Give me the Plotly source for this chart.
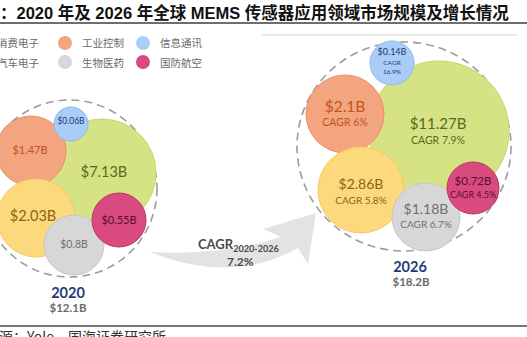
import plotly.graph_objects as go

# ---- data -------------------------------------------------------------
categories = ["消费电子", "汽车电子", "工业控制", "信息通讯", "生物医药", "国防航空"]
market_2020 = [7.13, 2.03, 1.47, 0.06, 0.80, 0.55]    # $B
market_2026 = [11.27, 2.86, 2.10, 0.14, 1.18, 0.72]   # $B
cagr_by_sector = [7.9, 5.8, 6.0, 16.9, 6.7, 4.5]      # %, 2020-2026
years = ["2020", "2026"]
totals = [12.1, 18.2]                                  # $B
cagr_total = 7.2                                       # %

# ---- styles -----------------------------------------------------------
fill_colors = ["#d6e385", "#fdd97e", "#f2a57f", "#a9cdf8", "#d7d7d7", "#d94b7f"]
edge_colors = ["#c6d66c", "#f4ca60", "#ea8e62", "#8db8ee", "#c6c6c6", "#bb3466"]
label_colors = ["#5a6a1c", "#8a6512", "#c4531e", "#1f3a68", "#707070", "#5a0f2d"]
LATIN = "Lato, 'Noto Sans', sans-serif"
CJK = "'Noto Sans CJK SC', sans-serif"
W, H = 527, 337

# ---- bubble layout (pixel space: x right, y down) ---------------------
centres_2020 = [(102, 173), (36, 218), (31, 151), (71, 124), (74, 245), (119, 220)]
radii_2020 = [54, 39, 35, 17, 30, 27]
labels_2020 = [(104, 173), (33, 217), (30, 151), (71, 122), (74, 245), (119, 221)]
sizes_2020 = [14.5, 14.5, 11, 8.5, 10.5, 11]

centres_2026 = [(439, 131), (361, 190), (345, 114), (392, 63), (426, 217), (473, 188)]
radii_2026 = [70, 43, 39, 22, 34, 26]
value_pos_2026 = [(438, 125), (361, 185), (345, 108), (392, 53), (426, 210), (473, 182)]
cagr_pos_2026 = [(438, 141), (361, 201), (345, 123), (392, 68), (426, 225), (473, 196)]
value_sizes_2026 = [15, 14, 15.5, 9, 14, 11.5]
cagr_sizes_2026 = [10.5, 10, 10.5, 6.5, 10, 9]

draw_order = [0, 2, 1, 3, 4, 5]
group_rings = [(-18, 100, 157, 277), (297, 42, 511, 251)]
year_pos = [(68, 294), (410, 268)]
total_pos = [(68, 309), (411, 283)]

# legend grid: (marker x, text x, y)
legend_slots = [(-12, -5, 43), (-12, -5, 62), (65, 80, 43),
                (143, 158, 43), (65, 80, 62), (143, 158, 62)]


def px(x):
    return x / W


def py(y):
    return 1 - y / H


fig = go.Figure()
shapes = []

# rules
shapes.append(dict(type="line", x0=0, x1=527, y0=23, y1=23,
                   line=dict(color="#6e6e6e", width=2)))
shapes.append(dict(type="line", x0=262, x1=517, y0=35, y1=35,
                   line=dict(color="#d4d4d4", width=1)))
shapes.append(dict(type="line", x0=0, x1=527, y0=326, y1=326,
                   line=dict(color="#777777", width=2)))

# growth arrow between the two groups
shapes.append(dict(
    type="path",
    path="M 150,252 Q 232,285 298,248 L 308,264 L 316,213 L 263,229 "
         "L 281,237 Q 225,256 150,252 Z",
    fillcolor="#e3e3e3", line=dict(width=0)))

# dashed rings around each year's group
for (x0, y0, x1, y1) in group_rings:
    shapes.append(dict(type="circle", x0=x0, y0=y0, x1=x1, y1=y1,
                       line=dict(color="#9c9c9c", width=1.6, dash="8px,5px"),
                       fillcolor="rgba(0,0,0,0)"))

# sector bubbles
for centres, radii in ((centres_2020, radii_2020), (centres_2026, radii_2026)):
    for i in draw_order:
        cx, cy = centres[i]
        r = radii[i]
        shapes.append(dict(type="circle", x0=cx - r, x1=cx + r, y0=cy - r, y1=cy + r,
                           fillcolor=fill_colors[i],
                           line=dict(color=edge_colors[i], width=1)))

for s in shapes:
    s["layer"] = "below"

# legend dots
fig.add_trace(go.Scatter(
    x=[legend_slots[i][0] for i in range(len(categories))],
    y=[legend_slots[i][2] for i in range(len(categories))],
    mode="markers",
    marker=dict(size=14, color=fill_colors, line=dict(width=0)),
    hoverinfo="skip", showlegend=False, cliponaxis=False))

# 2020 value labels
fig.add_trace(go.Scatter(
    x=[p[0] for p in labels_2020], y=[p[1] for p in labels_2020],
    mode="text", text=[f"${v:g}B" for v in market_2020],
    textfont=dict(family=LATIN, size=sizes_2020, color=label_colors),
    hoverinfo="skip", showlegend=False, cliponaxis=False))

# 2026 value labels and sector CAGR
fig.add_trace(go.Scatter(
    x=[p[0] for p in value_pos_2026], y=[p[1] for p in value_pos_2026],
    mode="text", text=[f"${v:g}B" for v in market_2026],
    textfont=dict(family=LATIN, size=value_sizes_2026, color=label_colors),
    hoverinfo="skip", showlegend=False, cliponaxis=False))
cagr_text = [f"CAGR {c:g}%" for c in cagr_by_sector]
cagr_text[3] = f"CAGR<br>{cagr_by_sector[3]:g}%"
fig.add_trace(go.Scatter(
    x=[p[0] for p in cagr_pos_2026], y=[p[1] for p in cagr_pos_2026],
    mode="text", text=cagr_text,
    textfont=dict(family=LATIN, size=cagr_sizes_2026, color=label_colors),
    hoverinfo="skip", showlegend=False, cliponaxis=False))

# year and total labels
fig.add_trace(go.Scatter(
    x=[p[0] for p in year_pos], y=[p[1] for p in year_pos],
    mode="text", text=[f"<b>{y}</b>" for y in years],
    textfont=dict(family=LATIN, size=14.5, color="#1f3c74"),
    hoverinfo="skip", showlegend=False, cliponaxis=False))
fig.add_trace(go.Scatter(
    x=[p[0] for p in total_pos], y=[p[1] for p in total_pos],
    mode="text", text=[f"<b>${t:g}B</b>" for t in totals],
    textfont=dict(family=LATIN, size=11.5, color="#6b6b6b"),
    hoverinfo="skip", showlegend=False, cliponaxis=False))

annotations = [
    dict(x=px(-2), y=py(12), xref="paper", yref="paper",
         xanchor="left", yanchor="middle",
         text="<b>：2020 年及 2026 年全球 MEMS 传感器应用领域市场规模及增长情况</b>",
         showarrow=False,
         font=dict(family="'Liberation Sans', 'Noto Sans CJK SC', sans-serif",
                   size=16.5, color="#111111")),
    dict(x=px(238), y=py(245), xref="paper", yref="paper",
         xanchor="center", yanchor="middle",
         text="<b>CAGR<sub>2020-2026</sub></b>", showarrow=False,
         font=dict(family=LATIN, size=13, color="#4a4a4a")),
    dict(x=px(241), y=py(261), xref="paper", yref="paper",
         xanchor="center", yanchor="middle",
         text=f"<b>{cagr_total:g}%</b>", showarrow=False,
         font=dict(family=LATIN, size=12, color="#4a4a4a")),
    dict(x=px(-45), y=py(335.5), xref="paper", yref="paper",
         xanchor="left", yanchor="middle",
         text="资料来源：Yole，国海证券研究所", showarrow=False,
         font=dict(family=CJK, size=14, color="#333333")),
]

# legend labels
for i, name in enumerate(categories):
    _, tx, ty = legend_slots[i]
    annotations.append(dict(x=px(tx), y=py(ty), xref="paper", yref="paper",
                            xanchor="left", yanchor="middle", text=name,
                            showarrow=False,
                            font=dict(family=CJK, size=10.5, color="#6a6a6a")))

fig.update_layout(
    width=W, height=H,
    margin=dict(l=0, r=0, t=0, b=0),
    paper_bgcolor="white", plot_bgcolor="white",
    xaxis=dict(range=[0, W], visible=False, fixedrange=True),
    yaxis=dict(range=[H, 0], visible=False, fixedrange=True),
    shapes=shapes, annotations=annotations, showlegend=False,
)

fig.write_html("out.html")
